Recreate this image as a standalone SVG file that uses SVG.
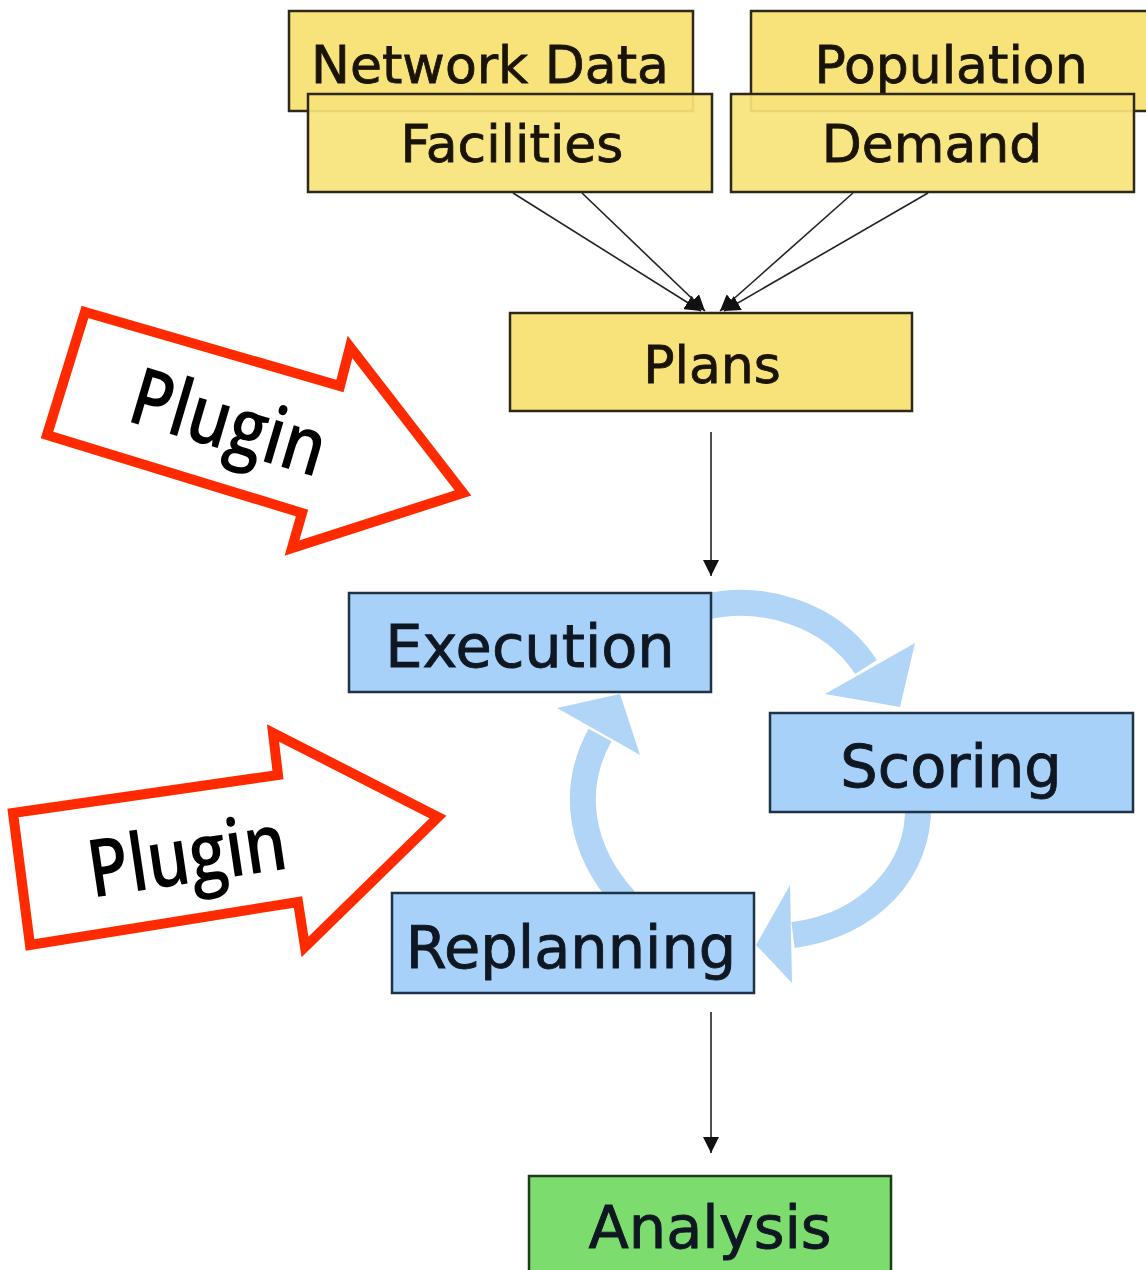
<svg xmlns="http://www.w3.org/2000/svg" width="1146" height="1270" viewBox="0 0 1146 1270">
<style>
.yb{fill:#f8e37b;stroke:#2e2818;stroke-width:2.5}
.bb{fill:#a7d1f8;stroke:#1f3347;stroke-width:2.5}
.gb{fill:#7cdd6e;stroke:#1f3a1a;stroke-width:2.5}
.yt{font-family:"DejaVu Sans",Verdana,sans-serif;font-size:52px;fill:#1a1408;stroke:#1a1408;stroke-width:0.8;text-anchor:middle}
.bt{font-family:"DejaVu Sans",Verdana,sans-serif;font-size:59px;fill:#0e1722;stroke:#0e1722;stroke-width:0.9;text-anchor:middle}
.ln{stroke:#222;stroke-width:1.6;fill:none}
.cyc{stroke:#b0d5f7;stroke-width:26;fill:none}
.cyh{fill:#b0d5f7}
.plug{fill:#fff;stroke:#ff2a00;stroke-width:10;stroke-linejoin:miter}
.pt{font-family:"Open Sans",sans-serif;font-size:80px;font-weight:600;fill:#000;text-anchor:middle}
</style>
<defs>
<marker id="ah" markerUnits="userSpaceOnUse" markerWidth="16" markerHeight="16" viewBox="0 0 10 10" refX="10" refY="5" orient="auto">
<path d="M0,0 L10,5 L0,10 z" fill="#111"/>
</marker>
</defs>
<rect width="1146" height="1270" fill="#fff"/>

<g id="network-data"><rect class="yb" x="289" y="11" width="404" height="100"/><text class="yt" x="490" y="83">Network Data</text></g>
<g id="population"><rect class="yb" x="751" y="11" width="420" height="100"/><text class="yt" x="951" y="83">Population</text></g>

<g id="connectors">
<line class="ln" x1="513" y1="193" x2="701" y2="311" marker-end="url(#ah)"/>
<line class="ln" x1="582" y1="193" x2="705" y2="311" marker-end="url(#ah)"/>
<line class="ln" x1="853" y1="193" x2="720" y2="311" marker-end="url(#ah)"/>
<line class="ln" x1="928" y1="193" x2="724" y2="311" marker-end="url(#ah)"/>
<line class="ln" x1="711" y1="432" x2="711" y2="576" marker-end="url(#ah)"/>
<line class="ln" x1="711" y1="1012" x2="711" y2="1153" marker-end="url(#ah)"/>
<path class="cyc" d="M705,607 C760,594 830,612 866,667"/>
<polygon class="cyh" points="825,694 915,643 900,707"/>
<path class="cyc" d="M918,805 C920,870 870,925 793,935"/>
<polygon class="cyh" points="790,885 792,983 756,945"/>
<path class="cyc" d="M625,900 C580,850 570,790 600,735"/>
<polygon class="cyh" points="557,708 640,755 620,694"/>
</g>

<g id="facilities"><rect class="yb" x="308" y="94" width="404" height="98" fill-opacity="0.93"/><text class="yt" x="512" y="162">Facilities</text></g>
<g id="demand"><rect class="yb" x="731" y="94" width="403" height="98" fill-opacity="0.93"/><text class="yt" x="932" y="162">Demand</text></g>
<g id="plans"><rect class="yb" x="510" y="313" width="402" height="98"/><text class="yt" x="712" y="383">Plans</text></g>

<g id="execution"><rect class="bb" x="349" y="593" width="362" height="99"/><text class="bt" x="530" y="667">Execution</text></g>
<g id="scoring"><rect class="bb" x="770" y="713" width="363" height="99"/><text class="bt" x="951" y="787">Scoring</text></g>
<g id="replanning"><rect class="bb" x="392" y="893" width="362" height="100"/><text class="bt" x="571" y="968">Replanning</text></g>
<g id="analysis"><rect class="gb" x="529" y="1176" width="362" height="110"/><text class="bt" x="710" y="1248">Analysis</text></g>

<g id="plugin-1">
<polygon class="plug" points="85,312 340,386 350,347 463,493 292,548 302,513 47,435"/>
<text class="pt" transform="translate(221,449) rotate(16.5)" textLength="200" lengthAdjust="spacingAndGlyphs">Plugin</text>
</g>
<g id="plugin-2">
<polygon class="plug" points="13,813 278,775 273,733 438,817 305,947 298,902 30,945"/>
<text class="pt" transform="translate(191,883) rotate(-8.5)" textLength="200" lengthAdjust="spacingAndGlyphs">Plugin</text>
</g>
</svg>
